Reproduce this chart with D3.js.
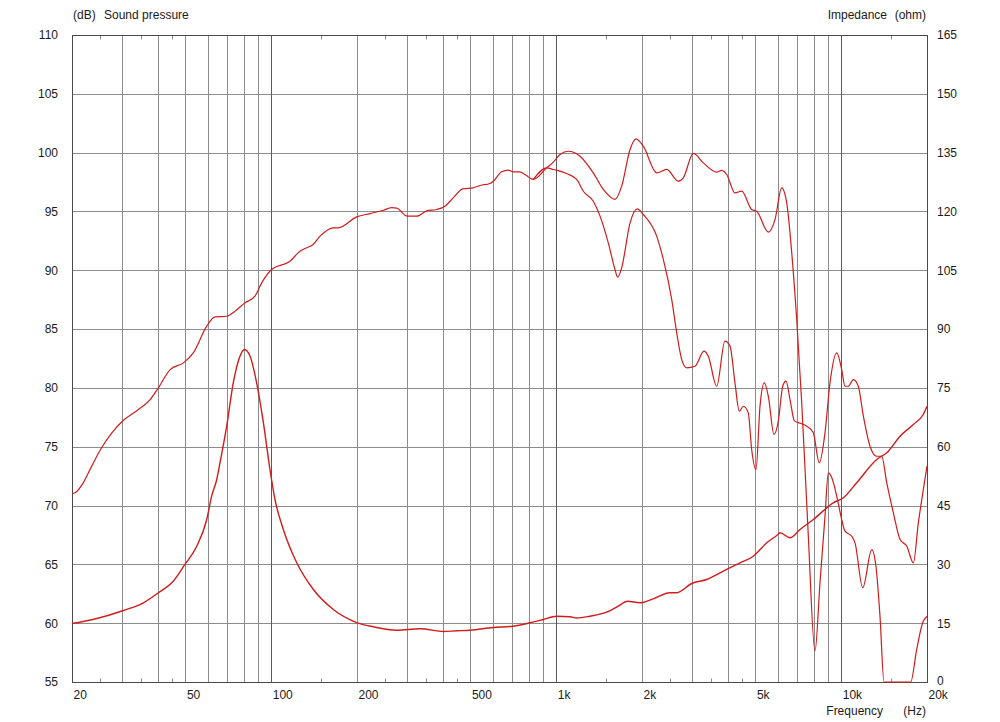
<!DOCTYPE html>
<html>
<head>
<meta charset="utf-8">
<script src="https://cdn.jsdelivr.net/npm/d3@7"></script>
<style>
html,body{margin:0;padding:0;background:#fff;}
svg{display:block;font-family:"Liberation Sans",Arial,sans-serif;}
</style>
</head>
<body>
<svg id="chart" width="1000" height="722"></svg>
<script>
// ---------- DATA ----------
const freqLabels = [20, 50, 100, 200, 500, 1000, 2000, 5000, 10000, 20000];
const freqLabelText = ["20", "50", "100", "200", "500", "1k", "2k", "5k", "10k", "20k"];
const gridFreqs = [30,40,50,60,70,80,90,100,200,300,400,500,600,700,800,900,1000,2000,3000,4000,5000,6000,7000,8000,9000,10000];
const decadeFreqs = [100, 1000, 10000];
const minorTickFreqs = [25,35,45,150,250,350,450,1500,2500,3500,4500,15000];
const dbTicks = [55,60,65,70,75,80,85,90,95,100,105,110];
const ohmTicks = [0,15,30,45,60,75,90,105,120,135,150,165];

// On-axis sound pressure (dB)
const splFreq = [20,20.5,21.9,23.45,25.4,27.6,30.3,34.2,37.6,40.2,44.2,49.2,53.3,59.4,63.5,69.8,74.6,80.9,87.7,92.6,100.3,116.4,126.2,131.4,140.2,148.4,165.2,172,199.5,222.2,247.4,264.8,275.7,300.3,324,351.2,380.7,407.2,435.4,469.9,511.9,540.4,585.6,601.3,643.6,678.9,706.8,746.1,777,831,926,977,1031,1103,1212,1349,1463,1608,1697,1816,1905,2021,2252,2442,2682,2792,3027,3282,3657,3807,3964,4239,4475,4851,5052,5550,5857,6184,6439,6704,6980,7268,7647,8092,8426,8773,9011,9262,9645,10040,10310,10890,11180,11900,12800,13240,13680,14130,17530,18400,19310,20000];
const splDb   = [71.0,71.08,71.93,73.35,74.91,76.18,77.25,78.16,79.01,80.01,81.56,82.13,82.98,85.25,86.04,86.09,86.52,87.23,87.8,88.93,90.07,90.77,91.62,91.85,92.19,92.9,93.61,93.61,94.54,94.82,95.1,95.33,95.28,94.6,94.6,95.05,95.17,95.45,96.16,96.92,97.01,97.21,97.38,97.57,98.37,98.51,98.37,98.37,98.14,97.72,98.71,99.19,99.84,100.12,99.7,98.28,96.87,96.02,97.15,100.27,101.17,100.55,98.28,98.57,97.57,97.86,99.93,99.13,98.34,98.5,98.14,96.58,96.72,95.17,95.02,93.24,94.31,97.01,95.73,91.51,85.81,78.76,67.96,57.62,63.46,69.1,72.78,72.38,70.8,68.81,67.82,67.39,66.83,63.01,66.26,64.84,60.59,55,55,57.76,60.03,60.59];

// Off-axis sound pressure (dB), splits from on-axis near 900 Hz
const offFreq = [831,926,977,1088,1180,1245,1349,1425,1523,1608,1643,1697,1816,1925,2021,2252,2376,2543,2648,2757,2870,3069,3300,3417,3657,3908,4072,4239,4390,4534,4720,4851,5024,5189,5372,5550,5811,6016,6234,6403,6613,6850,7168,7568,7983,8377,8773,9134,9645,10040,10310,10590,11030,11480,11960,12620,13320,13870,14450,15240,16090,16990,17910,18650,19170,20000];
const offDb   = [97.72,98.71,98.57,98.22,97.72,96.72,95.87,94.6,92.33,90.07,89.41,90.21,94.03,95.22,94.74,92.9,90.92,87.51,84.68,82.41,81.71,81.84,83.12,82.69,80.14,83.97,83.55,80.43,78.02,78.44,77.88,74.76,73.06,78.44,80.43,79.29,76.04,77.17,80.14,80.57,79.01,77.2,77.0,76.75,76.18,73.63,76.18,80.43,82.98,81.56,80.14,80.14,80.71,80.14,77.6,75.04,74.19,74.19,71.93,69.38,67.11,66.54,65.13,68.53,70.51,73.35];

// Impedance (ohm)
const impFreq = [20,23.7,30.3,35.6,40.2,45.3,49.8,54.8,59.4,61.8,64.4,66.1,69.8,73.6,77.7,80.5,84.3,88.9,93.9,99,103.1,110.3,122.9,140.6,165.2,200.5,228.2,275.7,332.7,401.7,447.7,498.4,601.3,706.8,809.2,901.3,1004,1118,1180,1314,1503,1651,1777,1968,2191,2507,2648,2988,3373,3857,4415,4917,5478,5939,6100,6613,7168,7983,9381,10170,11330,13320,14450,16090,17910,19400,20000];
const impOhm  = [14.9,15.94,18.23,20.2,22.75,25.71,29.97,34.63,41.44,47.39,51.64,55.9,65.24,76.3,83.09,84.8,83.09,76.3,66.1,54.19,46.54,38.89,30.4,23.59,18.49,15.1,14.08,13.21,13.57,12.88,13.06,13.21,13.9,14.23,15.1,15.94,16.78,16.63,16.32,16.78,17.8,19.33,20.61,20.2,21.22,22.75,22.75,25.12,26.14,28.26,30.4,32.08,35.5,37.36,38.05,36.78,38.89,41.44,45.7,46.98,50.8,56.75,58.45,62.69,65.67,68.22,70.34];

// ---------- CHART ----------
const svg = d3.select("#chart");
const L = 72, R = 927, T = 35, B = 682;
const x = d3.scaleLog().domain([20, 20000]).range([L, R]);
const yL = d3.scaleLinear().domain([55, 110]).range([B, T]);
const yR = d3.scaleLinear().domain([0, 165]).range([B, T]);
const px = v => Math.round(v) + 0.5;

const gridColor = "#8c8c8c", darkColor = "#4a4a4a", textColor = "#1a1a1a";
const fontSize = "12px";

// Horizontal grid
svg.append("g").selectAll("line").data(dbTicks.slice(1, -1)).join("line")
  .attr("x1", L).attr("x2", R)
  .attr("y1", d => px(yL(d))).attr("y2", d => px(yL(d)))
  .attr("stroke", gridColor).attr("stroke-width", 1);

// Vertical grid
svg.append("g").selectAll("line").data(gridFreqs).join("line")
  .attr("x1", d => px(x(d))).attr("x2", d => px(x(d)))
  .attr("y1", T).attr("y2", B)
  .attr("stroke", d => decadeFreqs.includes(d) ? "#5a5a5a" : gridColor)
  .attr("stroke-width", 1);

// Minor ticks top & bottom
const tk = svg.append("g");
tk.selectAll("line.b").data(minorTickFreqs).join("line").attr("class","b")
  .attr("x1", d => px(x(d))).attr("x2", d => px(x(d)))
  .attr("y1", px(yL(55)) - 4).attr("y2", px(yL(55)))
  .attr("stroke", gridColor);
tk.selectAll("line.t").data(minorTickFreqs).join("line").attr("class","t")
  .attr("x1", d => px(x(d))).attr("x2", d => px(x(d)))
  .attr("y1", px(yL(110))).attr("y2", px(yL(110)) + 4)
  .attr("stroke", gridColor);

// Frame
svg.append("rect")
  .attr("x", px(x(20))).attr("y", px(yL(110)))
  .attr("width", Math.round(x(20000)) - Math.round(x(20)))
  .attr("height", Math.round(yL(55)) - Math.round(yL(110)))
  .attr("fill", "none").attr("stroke", darkColor).attr("stroke-width", 1);

// Axes (labels only)
const styleAxis = g => {
  g.select(".domain").remove();
  g.selectAll(".tick line").remove();
  g.selectAll("text").attr("fill", textColor).style("font-size", fontSize)
    .style("font-family", '"Liberation Sans", Arial, sans-serif');
};
svg.append("g").attr("transform", `translate(0,${B})`)
  .call(d3.axisBottom(x).tickValues(freqLabels)
    .tickFormat((d, i) => freqLabelText[i]).tickSize(0).tickPadding(8.5))
  .call(styleAxis)
  .call(g => g.selectAll("text").attr("text-anchor", "start").attr("dx", "1px"));

svg.append("g").attr("transform", `translate(${L},0)`)
  .call(d3.axisLeft(yL).tickValues(dbTicks).tickFormat(d3.format("d")).tickSize(0).tickPadding(14))
  .call(styleAxis);

svg.append("g").attr("transform", `translate(${R},0)`)
  .call(d3.axisRight(yR).tickValues(ohmTicks).tickFormat(d3.format("d")).tickSize(0).tickPadding(10))
  .call(styleAxis)
  .call(g => g.selectAll(".tick").filter(d => d === 0).select("text").attr("dy", "0.2em"));

// Titles
const title = (tx, ty, t, anchor) => svg.append("text").attr("x", tx).attr("y", ty)
  .attr("text-anchor", anchor).attr("fill", textColor).style("font-size", fontSize).text(t);
title(73, 19, "(dB)", "start");
title(104, 19, "Sound pressure", "start");
title(887, 19, "Impedance", "end");
title(926, 19, "(ohm)", "end");
title(883, 715, "Frequency", "end");
title(926, 715, "(Hz)", "end");

// Curves
svg.append("clipPath").attr("id", "plotclip").append("rect")
  .attr("x", L).attr("y", T - 1).attr("width", R - L + 1).attr("height", B - T + 2);
const curveColor = "#d01c1c";
const plot = svg.append("g").attr("clip-path", "url(#plotclip)");

const lineL = d3.line().x(d => x(d[0])).y(d => yL(d[1])).curve(d3.curveMonotoneX);
const lineR = d3.line().x(d => x(d[0])).y(d => yR(d[1])).curve(d3.curveMonotoneX);

plot.append("path").datum(splFreq.map((f, i) => [f, splDb[i]]))
  .attr("d", lineL).attr("fill", "none").attr("stroke", curveColor).attr("stroke-width", 1.2);
plot.append("path").datum(offFreq.map((f, i) => [f, offDb[i]]))
  .attr("d", lineL).attr("fill", "none").attr("stroke", curveColor).attr("stroke-width", 1.2);
plot.append("path").datum(impFreq.map((f, i) => [f, impOhm[i]]))
  .attr("d", lineR).attr("fill", "none").attr("stroke", curveColor).attr("stroke-width", 1.4);
</script>
</body>
</html>
